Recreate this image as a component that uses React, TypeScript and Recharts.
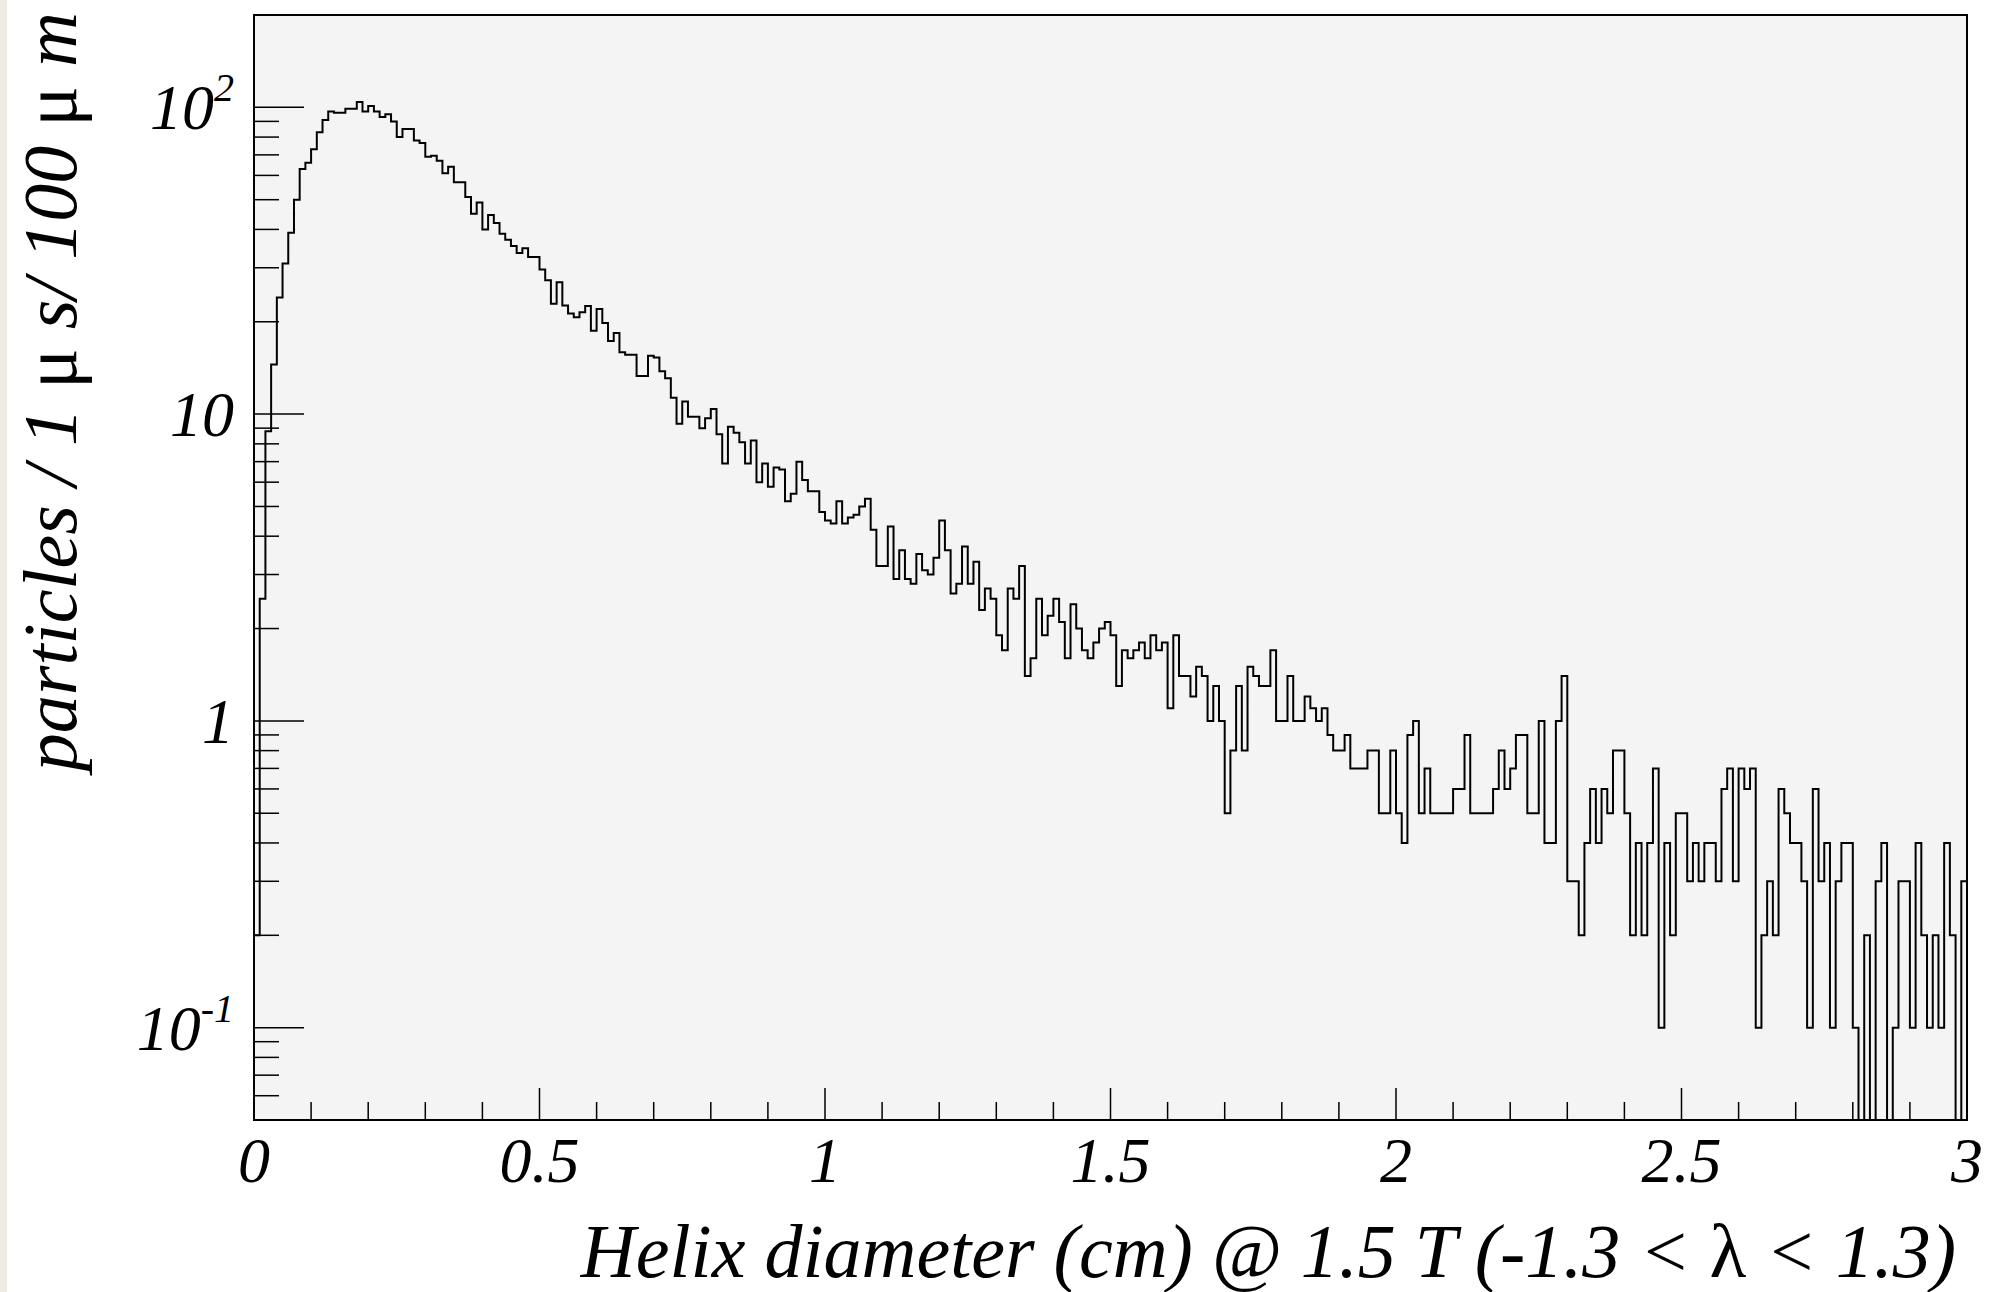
import { LineChart, Line, XAxis, YAxis, ReferenceArea, Label } from "recharts";

// histogram: 300 bins of 100 um between 0 and 3 cm
const BIN_WIDTH = 0.01;
const counts = [
  0.2, 2.5, 8.8, 14.5, 24, 31, 39, 50, 63, 66,
  73, 83, 91, 97, 96, 96, 99, 99, 104, 97,
  101, 97, 93, 95, 90, 80, 85, 85, 78, 76.5,
  69, 69.5, 67, 61, 64, 57, 57, 51, 45, 49,
  40, 44.6, 42, 38.7, 37, 35.3, 33.5, 34.7, 32.5, 32.5,
  29.6, 27.3, 22.9, 26.9, 22.6, 21.3, 20.7, 21.5, 22.5, 18.7,
  22, 19.8, 17.3, 18.4, 15.9, 15.6, 15.6, 13.3, 13.3, 15.5,
  15.3, 13.8, 13.1, 11.3, 9.3, 11, 9.8, 9.8, 9, 9.7,
  10.4, 8.6, 6.9, 9.1, 8.7, 8.1, 6.9, 8.2, 6, 6.9,
  5.8, 6.7, 6.6, 5.2, 5.5, 7, 6.1, 5.6, 5.6, 4.8,
  4.5, 4.4, 5.2, 4.4, 4.6, 4.7, 5, 5.3, 4.2, 3.2,
  3.2, 4.3, 2.9, 3.6, 2.9, 2.8, 3.5, 3.1, 3, 3.4,
  4.5, 3.6, 2.6, 2.8, 3.7, 2.8, 3.3, 2.3, 2.7, 2.5,
  1.9, 1.7, 2.7, 2.5, 3.2, 1.4, 1.6, 2.5, 1.9, 2.2,
  2.5, 2.1, 1.6, 2.4, 2, 1.7, 1.6, 1.8, 2, 2.1,
  1.9, 1.3, 1.7, 1.6, 1.7, 1.8, 1.6, 1.9, 1.7, 1.8,
  1.1, 1.9, 1.4, 1.4, 1.2, 1.5, 1.4, 1, 1.3, 1,
  0.5, 0.8, 1.3, 0.8, 1.5, 1.4, 1.3, 1.3, 1.7, 1,
  1, 1.4, 1, 1, 1.2, 1.1, 1, 1.1, 0.9, 0.8,
  0.8, 0.9, 0.7, 0.7, 0.7, 0.8, 0.8, 0.5, 0.5, 0.8,
  0.5, 0.4, 0.9, 1, 0.5, 0.7, 0.5, 0.5, 0.5, 0.5,
  0.6, 0.6, 0.9, 0.5, 0.5, 0.5, 0.5, 0.6, 0.8, 0.6,
  0.7, 0.9, 0.9, 0.5, 0.5, 1, 0.4, 0.4, 1, 1.4,
  0.3, 0.3, 0.2, 0.4, 0.6, 0.4, 0.6, 0.5, 0.8, 0.8,
  0.5, 0.2, 0.4, 0.2, 0.4, 0.7, 0.1, 0.4, 0.2, 0.5,
  0.5, 0.3, 0.4, 0.3, 0.4, 0.4, 0.3, 0.6, 0.7, 0.3,
  0.7, 0.6, 0.7, 0.1, 0.2, 0.3, 0.2, 0.6, 0.5, 0.4,
  0.4, 0.3, 0.1, 0.6, 0.3, 0.4, 0.1, 0.3, 0.4, 0.4,
  0.1, 0, 0.2, 0, 0.3, 0.4, 0, 0.1, 0.3, 0.3,
  0.1, 0.4, 0.2, 0.1, 0.2, 0.1, 0.4, 0.2, 0, 0.3,
];

const xTicks = [
  0, 0.1, 0.2, 0.3, 0.4, 0.5, 0.6, 0.7, 0.8, 0.9, 1, 1.1, 1.2, 1.3, 1.4, 1.5,
  1.6, 1.7, 1.8, 1.9, 2, 2.1, 2.2, 2.3, 2.4, 2.5, 2.6, 2.7, 2.8, 2.9, 3,
];
const xLabels = ["0", "0.5", "1", "1.5", "2", "2.5", "3"];

const yTicks = [
  0.06, 0.07, 0.08, 0.09, 0.1, 0.2, 0.3, 0.4, 0.5, 0.6, 0.7, 0.8, 0.9,
  1, 2, 3, 4, 5, 6, 7, 8, 9, 10, 20, 30, 40, 50, 60, 70, 80, 90, 100,
];
const yDecades = [0.1, 1, 10, 100];
const yLabelBase = ["10", "1", "10", "10"];
const yLabelExp = ["-1", "", "", "2"];

const Y_MIN = 0.05;
const Y_MAX = 200;
const Y_FLOOR = 0.001; // empty bins fall below the frame and get clipped

const FONT = "'Liberation Serif', 'Times New Roman', serif";

const data = [
  ...counts.map((c, i) => ({ x: +(i * BIN_WIDTH).toFixed(2), y: c > 0 ? c : Y_FLOOR })),
  { x: +(counts.length * BIN_WIDTH).toFixed(2), y: counts[counts.length - 1] || Y_FLOOR },
];

const YTick = ({ x, y, payload }: any) => {
  const idx = yDecades.indexOf(payload.value);
  const major = idx >= 0;
  return (
    <g>
      <line x1={x} x2={x + (major ? 50 : 25)} y1={y} y2={y} stroke="#000" strokeWidth={1.5} />
      {major && (
        <text
          x={x - 20}
          y={y + 22}
          textAnchor="end"
          fontFamily={FONT}
          fontStyle="italic"
          fontSize={64}
          fill="#000"
        >
          {yLabelBase[idx]}
          {yLabelExp[idx] && (
            <tspan dy={-28} fontSize={40}>
              {yLabelExp[idx]}
            </tspan>
          )}
        </text>
      )}
    </g>
  );
};

const XTick = ({ x, y, payload }: any) => {
  const v = payload.value;
  const label = xLabels.find((l) => Math.abs(Number(l) - v) < 1e-6);
  return (
    <g>
      <line x1={x} x2={x} y1={y} y2={y - (label ? 32 : 18)} stroke="#000" strokeWidth={1.5} />
      {label && (
        <text
          x={x}
          y={y + 62}
          textAnchor="middle"
          fontFamily={FONT}
          fontStyle="italic"
          fontSize={64}
          fill="#000"
        >
          {label}
        </text>
      )}
    </g>
  );
};

const XTitle = () => (
  <text x={1956} y={1277} textAnchor="end" fontFamily={FONT} fontStyle="italic" fontSize={76} fill="#000">
    Helix diameter (cm) @ 1.5 T (-1.3 &lt; <tspan fontStyle="normal">λ</tspan> &lt; 1.3)
  </text>
);

const YTitle = () => (
  <text
    transform="translate(76, 12) rotate(-90)"
    textAnchor="end"
    fontFamily={FONT}
    fontStyle="italic"
    fontSize={76}
    fill="#000"
  >
    particles / 1 <tspan fontStyle="normal">μ</tspan> s/ 100 <tspan fontStyle="normal">μ</tspan> m
  </text>
);

export default function App() {
  return (
    <div
      style={{
        position: "absolute",
        left: 0,
        top: 0,
        width: 1992,
        height: 1292,
        background: "#ffffff",
        borderLeft: "7px solid #f0ebe4",
        boxSizing: "border-box",
      }}
    >
      <div style={{ position: "absolute", left: -7, top: 0 }}>
        <LineChart
          width={1992}
          height={1292}
          data={data}
          margin={{ top: 15, right: 25, bottom: 0, left: 0 }}
        >
          <ReferenceArea
            x1={0}
            x2={3}
            y1={Y_MIN}
            y2={Y_MAX}
            fill="#f4f4f4"
            fillOpacity={1}
            stroke="#000"
            strokeWidth={2}
            ifOverflow="visible"
          />
          <XAxis
            type="number"
            dataKey="x"
            domain={[0, 3]}
            ticks={xTicks}
            interval={0}
            height={172}
            tickSize={0}
            tickMargin={0}
            tickLine={false}
            tick={<XTick />}
            axisLine={{ stroke: "#000", strokeWidth: 2 }}
          >
            <Label content={<XTitle />} />
          </XAxis>
          <YAxis
            scale="log"
            domain={[Y_MIN, Y_MAX]}
            allowDataOverflow
            ticks={yTicks}
            interval={0}
            width={254}
            tickSize={0}
            tickMargin={0}
            tickLine={false}
            tick={<YTick />}
            axisLine={{ stroke: "#000", strokeWidth: 2 }}
          >
            <Label content={<YTitle />} />
          </YAxis>
          <Line
            type="stepAfter"
            dataKey="y"
            stroke="#000"
            strokeWidth={2}
            dot={false}
            activeDot={false}
            isAnimationActive={false}
          />
        </LineChart>
      </div>
    </div>
  );
}
